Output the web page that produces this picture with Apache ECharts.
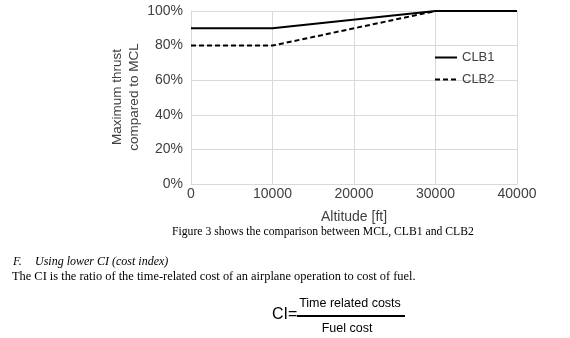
<!DOCTYPE html>
<html><head><meta charset="utf-8">
<script src="https://cdn.jsdelivr.net/npm/echarts@6/dist/echarts.min.js"></script>
<style>html,body{margin:0;padding:0;background:#fff}#c{width:570px;height:338px}</style>
</head><body><div id="c"></div>
<script>
const altitudes = [0, 10000, 30000, 40000];
const clb1 = [0.9, 0.9, 1.0, 1.0];
const clb2 = [0.8, 0.8, 1.0];
const xTicks = [0, 10000, 20000, 30000, 40000];
const yTicks = [0, 0.2, 0.4, 0.6, 0.8, 1.0];

const chart = echarts.init(document.getElementById('c'), null, {renderer: 'canvas'});
const sans = 'Liberation Sans';
function txt(x, y, text, font, align) {
  return {type: 'text', x: x, y: y, style: {text: text, font: font, fill: '#000', align: align || 'left', verticalAlign: 'middle'}};
}
chart.setOption({
  animation: false,
  grid: {left: 191, right: 53, top: 11, bottom: 154},
  legend: {
    data: ['CLB1', 'CLB2'], orient: 'vertical', left: 429, top: 46, itemGap: 9,
    itemWidth: 22, itemHeight: 14,
    itemStyle: {opacity: 0},
    textStyle: {fontFamily: sans, fontSize: 13, color: '#404040'}
  },
  xAxis: {
    type: 'value', min: 0, max: 40000, interval: 10000,
    name: 'Altitude [ft]', nameLocation: 'middle', nameGap: 26,
    nameTextStyle: {fontFamily: sans, fontSize: 14, color: '#404040'},
    axisLine: {show: true, lineStyle: {color: '#d9d9d9'}},
    axisTick: {show: false},
    axisLabel: {fontFamily: sans, fontSize: 14, color: '#404040', margin: 3,
      formatter: v => String(v)},
    splitLine: {show: true, lineStyle: {color: '#d9d9d9'}}
  },
  yAxis: {
    type: 'value', min: 0, max: 1, interval: 0.2,
    axisLine: {show: true, lineStyle: {color: '#d9d9d9'}},
    axisTick: {show: false},
    axisLabel: {fontFamily: sans, fontSize: 14, color: '#404040', margin: 8,
      formatter: v => Math.round(v * 100) + '%'},
    splitLine: {show: true, lineStyle: {color: '#d9d9d9'}}
  },
  series: [
    {name: 'CLB1', type: 'line', data: altitudes.map((a, i) => [a, clb1[i]]),
     symbol: 'none', lineStyle: {color: '#000', width: 2, type: 'solid'}, itemStyle: {color: '#000'}},
    {name: 'CLB2', type: 'line', data: clb2.map((v, i) => [altitudes[i], v]),
     symbol: 'none', lineStyle: {color: '#000', width: 2, type: [5, 3]}, itemStyle: {color: '#000'}}
  ],
  graphic: [
    {type: 'text', x: 126, y: 97, rotation: Math.PI / 2,
     style: {text: 'Maximum thrust\ncompared to MCL', font: '13.5px "Liberation Sans"', fill: '#404040',
             align: 'center', verticalAlign: 'middle', lineHeight: 17}},
    txt(172, 232, 'Figure 3 shows the comparison between MCL, CLB1 and CLB2', '11.7px "Liberation Serif"'),
    txt(13, 262, 'F.', 'italic 12px "Liberation Serif"'),
    txt(35, 262, 'Using lower CI (cost index)', 'italic 12px "Liberation Serif"'),
    txt(12, 277, 'The CI is the ratio of the time-related cost of an airplane operation to cost of fuel.', '12.4px "Liberation Serif"'),
    txt(272, 315, 'CI=', '16px "Liberation Sans"'),
    txt(350, 304, 'Time related costs', '12.5px "Liberation Sans"', 'center'),
    {type: 'line', shape: {x1: 297, y1: 316, x2: 405, y2: 316}, style: {stroke: '#000', lineWidth: 2}},
    txt(347, 329, 'Fuel cost', '12.5px "Liberation Sans"', 'center')
  ]
});
</script></body></html>
